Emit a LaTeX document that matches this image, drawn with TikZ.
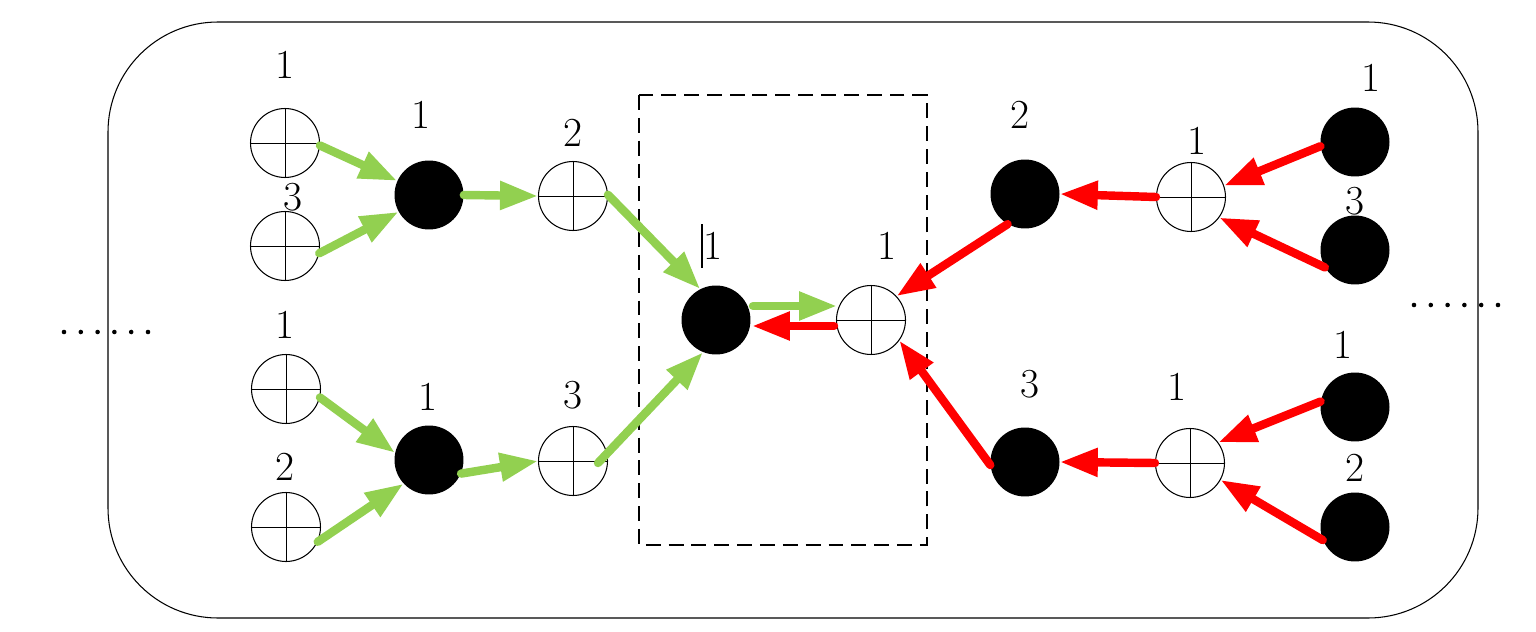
\documentclass[tikz,border=0pt]{standalone}
\usetikzlibrary{arrows.meta}
\definecolor{gr}{HTML}{92D050}
\definecolor{rd}{HTML}{FF0000}
\begin{document}
\begin{tikzpicture}[x=0.02cm,y=-0.02cm,
  op/.style={circle,draw,line width=0.6pt,minimum size=1.38cm,inner sep=0pt,
    path picture={\draw[line width=0.45pt] (path picture bounding box.north) -- (path picture bounding box.south)
      (path picture bounding box.west) -- (path picture bounding box.east);}},
  bk/.style={circle,fill=black,minimum size=1.38cm,inner sep=0pt},
  lab/.style={font=\fontsize{23.5}{28}\selectfont,inner sep=0pt},
  garr/.style={draw=gr,line width=4.8pt,line cap=round,-{Triangle[length=0.76cm,width=0.54cm]}},
  rarr/.style={draw=rd,line width=4.8pt,line cap=round,-{Triangle[length=0.76cm,width=0.54cm]}}]
\useasboundingbox (0,0) rectangle (1536,632);
\draw[line width=0.6pt,rounded corners=2.2cm] (108,22) rectangle (1478,618);
\draw[line width=0.6pt,dash pattern=on 8.5pt off 4.5pt] (639,95) rectangle (927,545);
% dots
\foreach \i in {0,...,5} {\fill (64+16.8*\i,332) circle (1.3pt);}
\foreach \i in {0,...,5} {\fill (1414+16.8*\i,305) circle (1.3pt);}
% nodes
\node[op] (A1) at (285,143) {};
\node[op] (A2) at (285,246) {};
\node[op] (A3) at (286,389) {};
\node[op] (A4) at (286,527) {};
\node[bk] (B1) at (429,195) {};
\node[bk] (B2) at (429,460) {};
\node[op] (C1) at (573,196) {};
\node[op] (C2) at (573,461) {};
\node[bk] (D) at (716,320) {};
\node[op] (E) at (871,320) {};
\node[bk] (F1) at (1025,194) {};
\node[bk] (F2) at (1025,462) {};
\node[op] (G1) at (1191,197) {};
\node[op] (G2) at (1190,463) {};
\node[bk] (H1) at (1355,142) {};
\node[bk] (H2) at (1355,250) {};
\node[bk] (H3) at (1355,407) {};
\node[bk] (H4) at (1355,527) {};
% labels
\node[lab] (lA1) at (285,65) {1};
\node[lab] (lA2) at (293,197) {3};
\node[lab] (lA3) at (285,325) {1};
\node[lab] (lA4) at (285,467) {2};
\node[lab] (lB1) at (421,115) {1};
\node[lab] (lB2) at (428,397) {1};
\node[lab] (lC1) at (573,133) {2};
\node[lab] (lC2) at (573,395) {3};
\node[lab] (lD) at (713,246) {1};
\draw[line width=0.6pt] (702,224) -- (702,268);
\node[lab] (lE) at (887,246) {1};
\node[lab] (lF1) at (1020,115) {2};
\node[lab] (lF2) at (1030,384) {3};
\node[lab] (lG1) at (1197,141) {1};
\node[lab] (lG2) at (1177,387) {1};
\node[lab] (lH1) at (1371,78) {1};
\node[lab] (lH2) at (1355,201) {3};
\node[lab] (lH3) at (1343,345) {1};
\node[lab] (lH4) at (1355,468) {2};
% green arrows
\draw[garr] (A1.-4) -- (B1.156);
\draw[garr] (A2.-12) -- (B1.209);
\draw[garr] (B1.0) -- (C1.180);
\draw[garr] (C1.2) -- (D.117);
\draw[garr] (A3.-14) -- (B2.168);
\draw[garr] (A4.-25) -- (B2.223);
\draw[garr] (B2.-23) -- (C2.180);
\coordinate (c2s) at (598,463);
\draw[garr] (c2s) -- (D.248);
\coordinate (d1) at (753,306);
\coordinate (e1) at (837,306);
\coordinate (d2) at (752,326);
\coordinate (e2) at (834,326);
\draw[garr] (d1) -- (e1);
\draw[rarr] (e2) -- (d2);
% red arrows
\draw[rarr] (F1.240) -- (E.43);
\draw[rarr] (F2.185) -- (E.-36);
\draw[rarr] (G1.180) -- (F1.0);
\draw[rarr] (G2.180) -- (F2.0);
\draw[rarr] (H1.187) -- (G1.19);
\draw[rarr] (H2.210) -- (G1.-36);
\draw[rarr] (H3.171) -- (G2.36);
\draw[rarr] (H4.202) -- (G2.-29);
\end{tikzpicture}
\end{document}
